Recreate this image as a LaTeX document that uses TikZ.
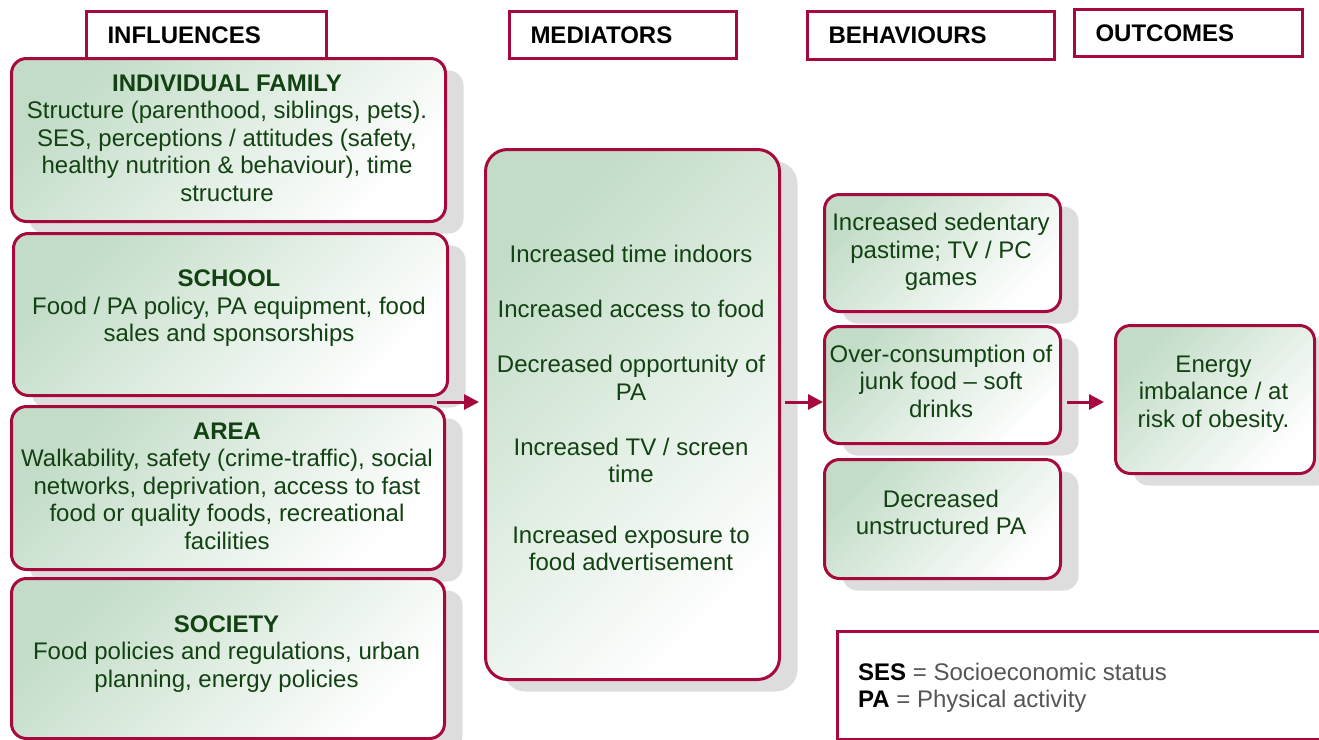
\documentclass[tikz,border=0pt]{standalone}
\usepackage{fontspec}
\setmainfont{Liberation Sans}
\usetikzlibrary{shadows,arrows.meta}

\definecolor{crimson}{RGB}{166,10,60}
\definecolor{leaf}{RGB}{18,66,18}
\definecolor{mint}{RGB}{194,220,199}
\definecolor{shadowgray}{RGB}{221,221,221}
\definecolor{keygray}{RGB}{85,85,85}

\tikzset{
  every node/.append style={font=\fontsize{24}{27.5}\selectfont},
  headbox/.style={draw=crimson, line width=3pt, fill=white, anchor=north west,
    minimum height=47pt, inner xsep=21pt, inner ysep=0pt, align=left,
    font=\fontsize{24}{27.5}\selectfont\bfseries},
  greenbox/.style={draw=crimson, line width=3pt, rounded corners=15pt,
    anchor=north west, inner sep=0pt,
    top color=mint, bottom color=white, shading angle=45,
    drop shadow={shadow xshift=18pt, shadow yshift=-12pt, fill=shadowgray, opacity=1}},
  boxtext/.style={text=leaf, align=center, inner sep=0pt},
  flow/.style={draw=crimson, line width=3pt, -{Triangle[length=15pt,width=15pt]}},
}

\begin{document}
\begin{tikzpicture}[x=1pt,y=-1pt]
\useasboundingbox (0,0) rectangle (1319,739);

% column headers
\node[headbox, minimum width=240pt, text width=198pt] (hinf) at (85,10) {INFLUENCES};
\node[headbox, minimum width=227pt, text width=185pt] (hmed) at (508,10) {MEDIATORS};
\node[headbox, minimum width=247pt, minimum height=48pt, text width=205pt] (hbeh) at (806,10) {BEHAVIOURS};
\node[headbox, minimum width=228pt, text width=186pt] (hout) at (1073,8) {OUTCOMES};

% influences
\node[greenbox, minimum width=434pt, minimum height=163pt] (fam) at (10,57) {};
\node[boxtext] (famtext) at (227,138) {\textbf{INDIVIDUAL FAMILY}\\Structure (parenthood, siblings, pets).\\SES, perceptions / attitudes (safety,\\healthy nutrition \& behaviour), time\\structure};

\node[greenbox, minimum width=434pt, minimum height=162pt] (school) at (12,232) {};
\node[boxtext] (schooltext) at (229,308.5) {\textbf{SCHOOL}\\Food / PA policy, PA equipment, food\\sales and sponsorships};

\node[greenbox, minimum width=433pt, minimum height=163pt] (area) at (10,405) {};
\node[boxtext] (areatext) at (227,486) {\textbf{AREA}\\Walkability, safety (crime-traffic), social\\networks, deprivation, access to fast\\food or quality foods, recreational\\facilities};

\node[greenbox, minimum width=433pt, minimum height=160pt] (society) at (10,577) {};
\node[boxtext] (societytext) at (226.5,654) {\textbf{SOCIETY}\\Food policies and regulations, urban\\planning, energy policies};

% mediators
\node[greenbox, rounded corners=22pt, minimum width=294pt, minimum height=530pt] (med) at (484,148) {};
\node[boxtext] (medtext) at (631,408) {Increased time indoors\\[27.5pt]Increased access to food\\[27.5pt]Decreased opportunity of\\PA\\[27.5pt]Increased TV / screen\\time\\[33pt]Increased exposure to\\food advertisement};

% behaviours
\node[greenbox, minimum width=236pt, minimum height=117pt] (beh1) at (823,193) {};
\node[boxtext] (beh1text) at (941,252) {Increased sedentary\\pastime; TV / PC\\games};

\node[greenbox, minimum width=236pt, minimum height=117pt] (beh2) at (823,325) {};
\node[boxtext] (beh2text) at (941,381) {Over-consumption of\\junk food -- soft\\drinks};

\node[greenbox, minimum width=236pt, minimum height=119pt] (beh3) at (823,458) {};
\node[boxtext] (beh3text) at (941,512.5) {Decreased\\unstructured PA};

% outcome
\node[greenbox, minimum width=199pt, minimum height=148pt] (out) at (1114,324) {};
\node[boxtext] (outtext) at (1213.5,394) {Energy\\imbalance / at\\risk of obesity.};

% flow arrows
\coordinate (inflout) at (437,402);
\coordinate (row) at (0,402);
\draw[flow, shorten >=5pt] (inflout) -- (med.west |- inflout);
\draw[flow, shorten <=4pt] (med.east |- row) -- (beh2.west |- row);
\draw[flow, shorten <=5pt, shorten >=10pt] (beh2.east |- row) -- (out.west |- row);

% abbreviations
\node[draw=crimson, line width=3pt, anchor=north west, inner sep=0pt,
      minimum width=520pt, minimum height=108pt] (key) at (836,630) {};
\node[anchor=west, align=left, text=keygray, inner sep=0pt] (keytext) at (858,688)
  {{\color{black}\bfseries SES} = Socioeconomic status\\{\color{black}\bfseries PA} = Physical activity};
\end{tikzpicture}
\end{document}
